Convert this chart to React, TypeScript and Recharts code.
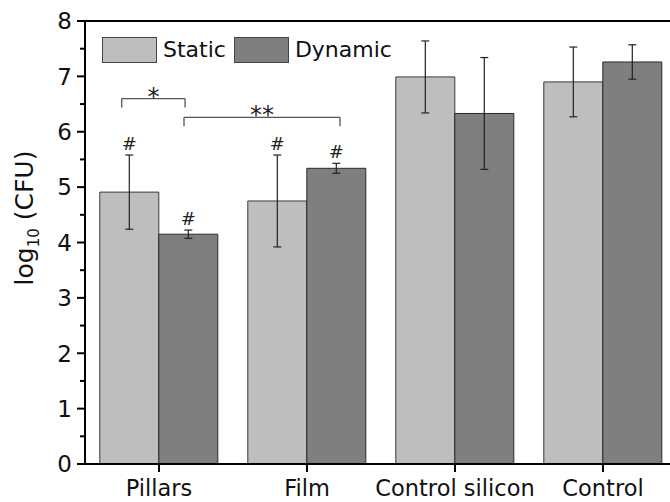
import {
  BarChart,
  Bar,
  XAxis,
  YAxis,
  ErrorBar,
  LabelList,
  Legend,
  ReferenceLine,
} from 'recharts';

const FONT = '"DejaVu Sans", Arial, sans-serif';

const categories = ['Pillars', 'Film', 'Control silicon', 'Control'];
const seriesNames = ['Static', 'Dynamic'];
const staticMean = [4.91, 4.75, 6.99, 6.9];
const staticSd = [0.67, 0.83, 0.65, 0.63];
const dynamicMean = [4.15, 5.34, 6.33, 7.26];
const dynamicSd = [0.075, 0.09, 1.01, 0.31];
const staticMarks = ['#', '#', '', ''];
const dynamicMarks = ['#', '#', '', ''];
const yTicks = [0, 0.5, 1, 1.5, 2, 2.5, 3, 3.5, 4, 4.5, 5, 5.5, 6, 6.5, 7, 7.5, 8];

// centre of each category on a continuous 0..4 axis, used to place brackets
const slots = [0.5, 1.5, 2.5, 3.5];

// significance brackets, x in category units (0..4), y in log10 units
const bracketFrom = [0.248, 0.669];
const bracketTo = [0.676, 1.723];
const bracketY = [6.6, 6.26];
const bracketLeg = [0.16, 0.16];
const bracketText = ['*', '**'];

const data = categories.map((name, i) => ({
  name,
  slot: slots[i],
  staticMean: staticMean[i],
  staticSd: staticSd[i],
  dynamicMean: dynamicMean[i],
  dynamicSd: dynamicSd[i],
}));

const YTick = ({ x, y, payload }: any) => {
  const v = payload.value;
  const major = Number.isInteger(v);
  return (
    <g>
      <line x1={x - (major ? 8 : 5)} x2={x} y1={y} y2={y} stroke="#000" strokeWidth={2} />
      {major && (
        <text x={x - 13} y={y} dy="0.36em" textAnchor="end" fontSize={23} fontFamily={FONT} fill="#111">
          {v}
        </text>
      )}
    </g>
  );
};

const makeMark = (marks: string[], means: number[], sds: number[]) => (props: any) => {
  const { x, y, width, height, index } = props;
  const mark = marks[index];
  if (!mark) return null;
  const perUnit = Number(height) / means[index];
  const top = Number(y) + Number(height) - (means[index] + sds[index]) * perUnit;
  return (
    <text
      x={Number(x) + Number(width) / 2}
      y={top - 5}
      textAnchor="middle"
      fontSize={18}
      fontFamily={FONT}
      fill="#222"
    >
      {mark}
    </text>
  );
};

const renderLegend = ({ payload }: any) => {
  const items = [...(payload || [])].sort(
    (a: any, b: any) => seriesNames.indexOf(a.value) - seriesNames.indexOf(b.value)
  );
  return (
    <div style={{ display: 'flex', alignItems: 'center', fontFamily: FONT, fontSize: 22, color: '#111' }}>
      {items.map((p: any) => (
        <div key={p.value} style={{ display: 'flex', alignItems: 'center', marginRight: 8 }}>
          <span
            style={{
              display: 'inline-block',
              width: 55,
              height: 26,
              boxSizing: 'border-box',
              background: p.color,
              border: '1.5px solid #444',
              marginRight: 6,
            }}
          />
          <span>{p.value}</span>
        </div>
      ))}
    </div>
  );
};

const yLabel = () => (
  <text
    x={33}
    y={218}
    transform="rotate(-90 33 218)"
    textAnchor="middle"
    fontSize={25}
    fontFamily={FONT}
    fill="#111"
  >
    log
    <tspan fontSize={15} dy={6}>10</tspan>
    <tspan dy={-6}> (CFU)</tspan>
  </text>
);

export default function App() {
  return (
    <div style={{ position: 'absolute', left: 0, top: 0, width: 670, height: 502, overflow: 'hidden', background: '#fff' }}>
      <BarChart
        width={680}
        height={502}
        data={data}
        margin={{ top: 21, right: 3, bottom: 0, left: 0 }}
        barCategoryGap="10%"
        barGap={0}
      >
        <XAxis
          dataKey="name"
          height={38}
          interval={0}
          tickSize={8}
          tickMargin={8}
          axisLine={{ stroke: '#000', strokeWidth: 2 }}
          tickLine={{ stroke: '#000', strokeWidth: 2 }}
          tick={{ fill: '#111', fontSize: 22.5, fontFamily: FONT }}
        />
        <XAxis xAxisId="pos" dataKey="slot" type="number" domain={[0, 4]} allowDataOverflow hide />
        <YAxis
          width={85}
          domain={[0, 8]}
          ticks={yTicks}
          interval={0}
          tickSize={0}
          tickMargin={0}
          tickLine={false}
          axisLine={{ stroke: '#000', strokeWidth: 2 }}
          tick={<YTick />}
          label={yLabel}
        />
        <Legend
          verticalAlign="middle"
          align="center"
          layout="horizontal"
          content={renderLegend}
          wrapperStyle={{ left: 102, top: 37, width: 320, height: 26, lineHeight: '26px' }}
        />
        <ReferenceLine y={8} stroke="#000" strokeWidth={2} />
        <Bar
          dataKey="staticMean"
          name="Static"
          fill="#BEBEBE"
          stroke="#3a3a3a"
          strokeWidth={1}
          isAnimationActive={false}
        >
          <ErrorBar dataKey="staticSd" width={4} stroke="#222" strokeWidth={1.2} />
          <LabelList dataKey="staticMean" content={makeMark(staticMarks, staticMean, staticSd)} />
        </Bar>
        <Bar
          dataKey="dynamicMean"
          name="Dynamic"
          fill="#7F7F7F"
          stroke="#2a2a2a"
          strokeWidth={1}
          isAnimationActive={false}
        >
          <ErrorBar dataKey="dynamicSd" width={4} stroke="#222" strokeWidth={1.2} />
          <LabelList dataKey="dynamicMean" content={makeMark(dynamicMarks, dynamicMean, dynamicSd)} />
        </Bar>
        {bracketText.map((t, i) => (
          <ReferenceLine
            key={`h${i}`}
            xAxisId="pos"
            segment={[
              { x: bracketFrom[i], y: bracketY[i] },
              { x: bracketTo[i], y: bracketY[i] },
            ]}
            stroke="#555"
            strokeWidth={1.3}
            label={(props: any) => {
              const vb = props.viewBox || {};
              return (
                <text
                  x={vb.x + (vb.width || 0) / 2}
                  y={vb.y + 6}
                  textAnchor="middle"
                  fontSize={24}
                  fontFamily={FONT}
                  fill="#222"
                >
                  {t}
                </text>
              );
            }}
          />
        ))}
        {bracketText.map((t, i) => (
          <ReferenceLine
            key={`l${i}`}
            xAxisId="pos"
            segment={[
              { x: bracketFrom[i], y: bracketY[i] },
              { x: bracketFrom[i], y: bracketY[i] - bracketLeg[i] },
            ]}
            stroke="#555"
            strokeWidth={1.3}
          />
        ))}
        {bracketText.map((t, i) => (
          <ReferenceLine
            key={`r${i}`}
            xAxisId="pos"
            segment={[
              { x: bracketTo[i], y: bracketY[i] },
              { x: bracketTo[i], y: bracketY[i] - bracketLeg[i] },
            ]}
            stroke="#555"
            strokeWidth={1.3}
          />
        ))}
      </BarChart>
    </div>
  );
}
